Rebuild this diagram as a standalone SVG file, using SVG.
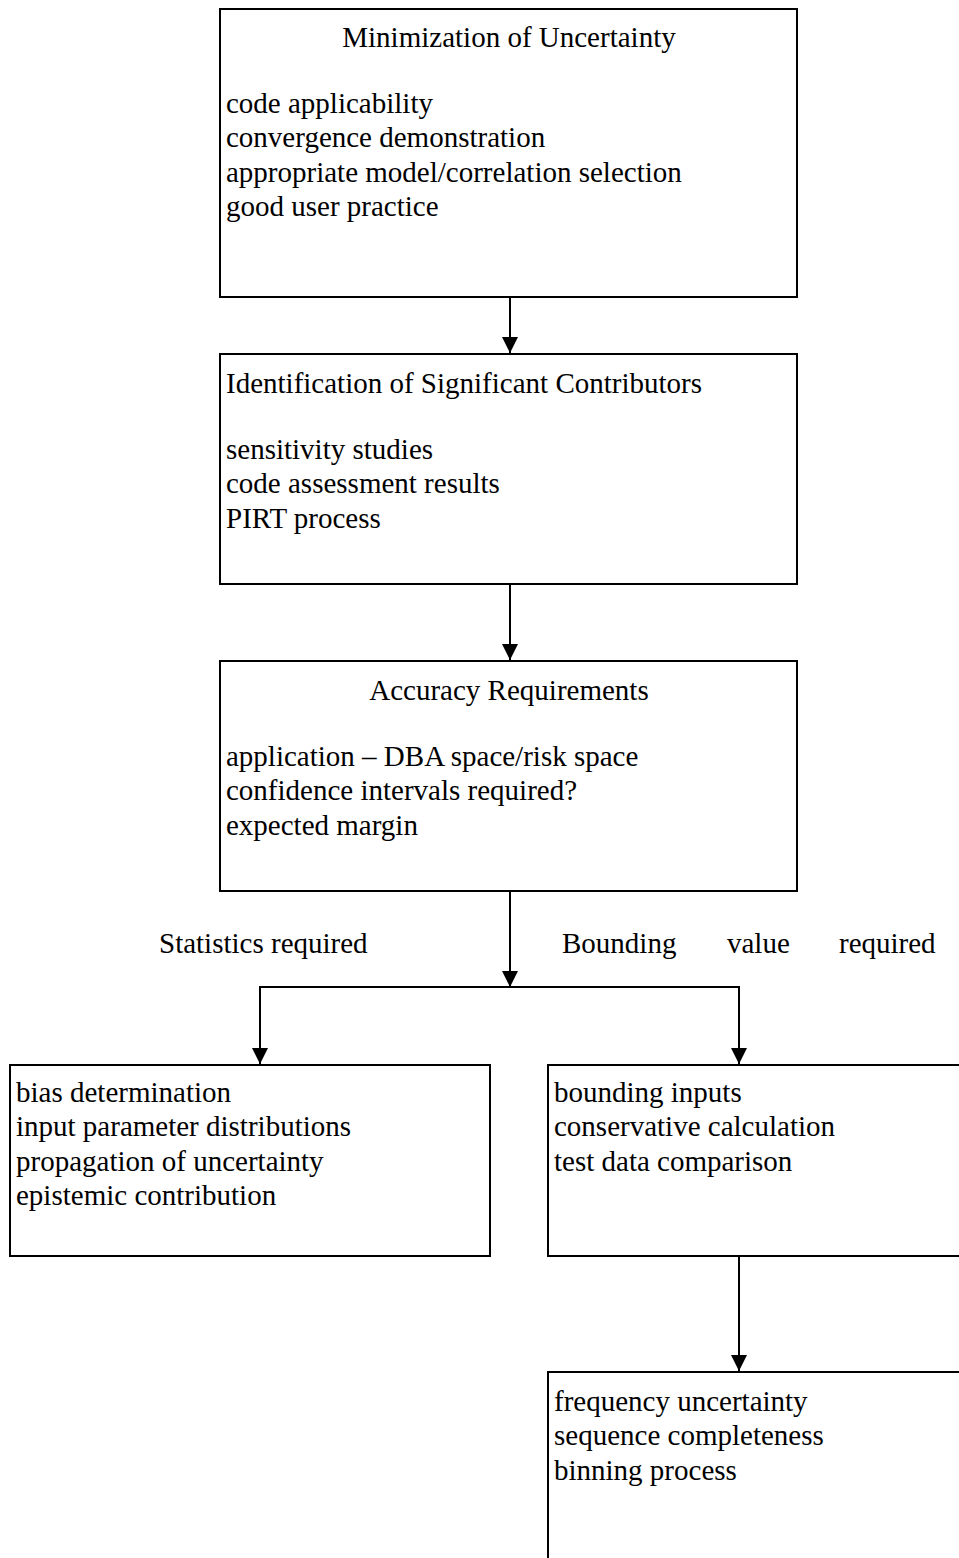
<svg xmlns="http://www.w3.org/2000/svg" width="959" height="1558" viewBox="0 0 959 1558">
<style>
.box{fill:#fff;stroke:#000;stroke-width:2}
.t{font-family:"Liberation Serif","Times New Roman",serif;font-size:29px;fill:#000}
.c{text-anchor:middle}
.ln{fill:none;stroke:#000;stroke-width:2}
</style>
<defs>
<marker id="ah" markerWidth="16" markerHeight="16" viewBox="0 0 16 16" refX="16" refY="8" orient="auto" markerUnits="userSpaceOnUse">
<path d="M0,0 L16,8 L0,16 Z" fill="#000"/>
</marker>
</defs>
<rect width="959" height="1558" fill="#fff"/>
<g id="connectors">
<line class="ln" x1="510" y1="297" x2="510" y2="353" marker-end="url(#ah)"/>
<line class="ln" x1="510" y1="584" x2="510" y2="660" marker-end="url(#ah)"/>
<line class="ln" x1="510" y1="891" x2="510" y2="987" marker-end="url(#ah)"/>
<polyline class="ln" points="260,1064 260,987 739,987 739,1064"/>
<line class="ln" x1="260" y1="1000" x2="260" y2="1064" marker-end="url(#ah)"/>
<line class="ln" x1="739" y1="1000" x2="739" y2="1064" marker-end="url(#ah)"/>
<line class="ln" x1="739" y1="1256" x2="739" y2="1371" marker-end="url(#ah)"/>
<text class="t" x="159" y="953">Statistics required</text>
<text class="t" x="562" y="953">Bounding</text>
<text class="t" x="727" y="953">value</text>
<text class="t" x="839" y="953">required</text>
</g>
<g id="n1">
<rect class="box" x="220" y="9" width="577" height="288"/>
<text class="t c" x="509" y="47">Minimization of Uncertainty</text>
<text class="t" x="226" y="113">code applicability</text>
<text class="t" x="226" y="147">convergence demonstration</text>
<text class="t" x="226" y="182">appropriate model/correlation selection</text>
<text class="t" x="226" y="216">good user practice</text>
</g>
<g id="n2">
<rect class="box" x="220" y="354" width="577" height="230"/>
<text class="t" x="226" y="393">Identification of Significant Contributors</text>
<text class="t" x="226" y="459">sensitivity studies</text>
<text class="t" x="226" y="493">code assessment results</text>
<text class="t" x="226" y="528">PIRT process</text>
</g>
<g id="n3">
<rect class="box" x="220" y="661" width="577" height="230"/>
<text class="t c" x="509" y="700">Accuracy Requirements</text>
<text class="t" x="226" y="766">application – DBA space/risk space</text>
<text class="t" x="226" y="800">confidence intervals required?</text>
<text class="t" x="226" y="835">expected margin</text>
</g>
<g id="n4">
<rect class="box" x="10" y="1065" width="480" height="191"/>
<text class="t" x="16" y="1102">bias determination</text>
<text class="t" x="16" y="1136">input parameter distributions</text>
<text class="t" x="16" y="1171">propagation of uncertainty</text>
<text class="t" x="16" y="1205">epistemic contribution</text>
</g>
<g id="n5">
<rect class="box" x="548" y="1065" width="430" height="191"/>
<text class="t" x="554" y="1102">bounding inputs</text>
<text class="t" x="554" y="1136">conservative calculation</text>
<text class="t" x="554" y="1171">test data comparison</text>
</g>
<g id="n6">
<rect class="box" x="548" y="1372" width="430" height="220"/>
<text class="t" x="554" y="1411">frequency uncertainty</text>
<text class="t" x="554" y="1445">sequence completeness</text>
<text class="t" x="554" y="1480">binning process</text>
</g>
</svg>
